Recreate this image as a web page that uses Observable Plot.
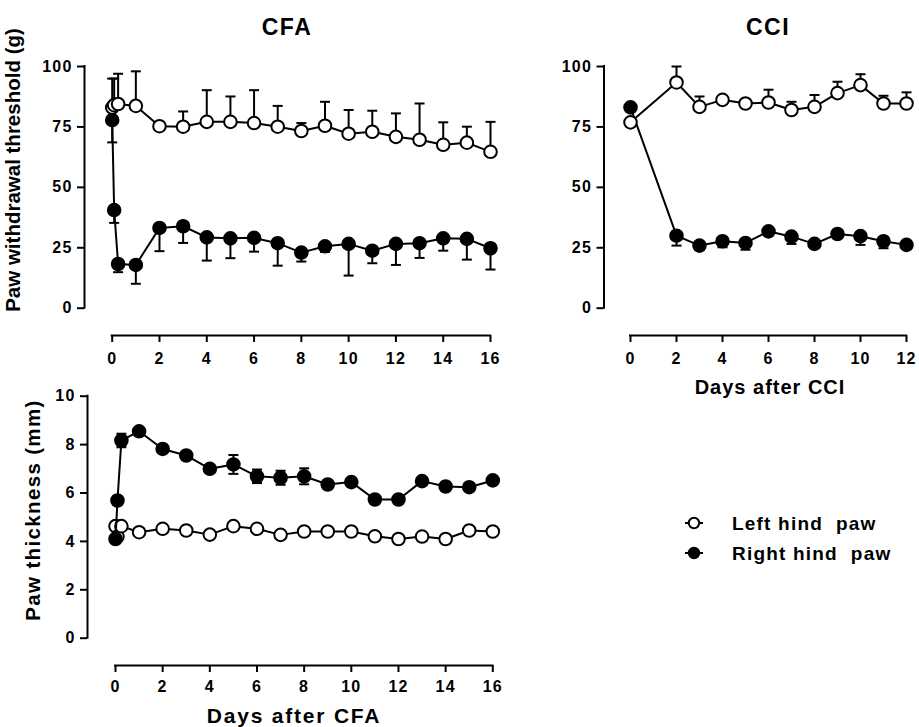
<!DOCTYPE html>
<html><head><meta charset="utf-8">
<script src="https://cdn.jsdelivr.net/npm/d3@7"></script>
<script src="https://cdn.jsdelivr.net/npm/@observablehq/plot@0.6"></script>
<style>
html,body{margin:0;padding:0;background:#fff;}
#fig{position:relative;width:919px;height:727px;overflow:hidden;font-family:'Liberation Sans',Arial,sans-serif;font-weight:bold;color:#000;}
.abs{position:absolute;white-space:pre;line-height:1;}
.panel{position:absolute;}
.panel svg{overflow:visible;}
</style></head><body><div id="fig"></div>
<script>
// ---------- data ----------
const cfaDays = [0, 0.083, 0.25, 1, 2, 3, 4, 5, 6, 7, 8, 9, 10, 11, 12, 13, 14, 15, 16];
const cfaTicks = [0, 2, 4, 6, 8, 10, 12, 14, 16];
const cciDays = [0, 2, 3, 4, 5, 6, 7, 8, 9, 10, 11, 12];
const cciTicks = [0, 2, 4, 6, 8, 10, 12];
const thresholdTicks = [0, 25, 50, 75, 100];
const thicknessTicks = [0, 2, 4, 6, 8, 10];

// CFA – paw withdrawal threshold (g)
const cfaThrLeft    = [83.0, 84.0, 84.5, 83.7, 75.3, 75.1, 77.1, 77.1, 76.6, 75.1, 73.3, 75.5, 72.2, 73.0, 70.9, 69.7, 67.6, 68.5, 64.7];
const cfaThrLeftErr = [12.0, 11.0, 12.5, 14.3, 1.0, 6.3, 13.1, 10.5, 13.6, 8.6, 3.3, 9.9, 9.8, 8.7, 9.7, 15.0, 9.3, 6.6, 12.4];
const cfaThrRight    = [77.8, 40.6, 18.3, 17.9, 33.2, 33.9, 29.3, 28.9, 29.1, 26.9, 23.0, 25.6, 26.6, 23.8, 26.6, 26.9, 28.9, 28.7, 24.8];
const cfaThrRightErr = [9.2, 5.3, 3.4, 7.8, 9.6, 6.9, 9.6, 8.2, 5.7, 9.3, 3.7, 2.3, 13.1, 5.2, 8.7, 6.1, 5.1, 8.6, 8.8];

// CCI – paw withdrawal threshold (g)
const cciThrLeft    = [76.9, 93.4, 83.3, 86.2, 84.7, 85.1, 82.0, 83.3, 89.0, 92.3, 84.7, 84.7];
const cciThrLeftErr = [1.0, 6.6, 4.3, 1.5, 1.5, 5.3, 3.4, 4.9, 4.7, 4.5, 3.2, 4.6];
const cciThrRight    = [83.1, 30.0, 25.9, 27.7, 27.0, 31.8, 29.6, 26.6, 30.7, 29.8, 27.7, 26.2];
const cciThrRightErr = [1.0, 4.1, 1.5, 2.5, 2.8, 1.5, 3.0, 1.5, 1.5, 3.6, 2.9, 1.5];

// CFA – paw thickness (mm)
const cfaThkLeft    = [4.63, 4.2, 4.63, 4.38, 4.52, 4.45, 4.28, 4.63, 4.52, 4.27, 4.41, 4.41, 4.41, 4.21, 4.1, 4.2, 4.1, 4.45, 4.41];
const cfaThkLeftErr = [0.1, 0.1, 0.1, 0.1, 0.1, 0.1, 0.1, 0.1, 0.1, 0.1, 0.1, 0.1, 0.1, 0.1, 0.1, 0.1, 0.1, 0.1, 0.1];
const cfaThkRight    = [4.1, 5.69, 8.17, 8.55, 7.82, 7.55, 7.0, 7.18, 6.69, 6.63, 6.69, 6.35, 6.45, 5.73, 5.73, 6.49, 6.27, 6.24, 6.52];
const cfaThkRightErr = [0.05, 0.1, 0.28, 0.1, 0.1, 0.1, 0.1, 0.39, 0.28, 0.29, 0.33, 0.1, 0.1, 0.1, 0.1, 0.1, 0.1, 0.1, 0.1];

// ---------- drawing ----------
const fig = document.getElementById("fig");
const capSymbol = { draw(ctx) { ctx.moveTo(-5, 0); ctx.lineTo(5, 0); } };

function seriesMarks(days, means, errs, filled, mode) {
  const data = days.map((d, i) => ({ x: d, y: means[i], e: errs[i] }));
  const lo = d => mode === "up" ? d.y : d.y - d.e;
  const hi = d => mode === "down" ? d.y : d.y + d.e;
  const m = [Plot.ruleX(data, { x: "x", y1: lo, y2: hi, stroke: "black", strokeWidth: 2 })];
  if (mode !== "down") m.push(Plot.dot(data, { x: "x", y: hi, symbol: capSymbol, r: 5, stroke: "black", strokeWidth: 2, fill: "none" }));
  if (mode !== "up") m.push(Plot.dot(data, { x: "x", y: lo, symbol: capSymbol, r: 5, stroke: "black", strokeWidth: 2, fill: "none" }));
  m.push(Plot.line(data, { x: "x", y: "y", stroke: "black", strokeWidth: 2 }));
  m.push(Plot.dot(data, { x: "x", y: "y", r: 6.3, fill: filled ? "black" : "white", stroke: "black", strokeWidth: 2 }));
  return m;
}

function panel(c) {
  const xDomain = [c.xTicks[0], c.xTicks[c.xTicks.length - 1]];
  const yDomain = [c.yTicks[0], c.yTicks[c.yTicks.length - 1]];
  const chart = Plot.plot({
    width: c.width, height: c.height,
    marginLeft: c.mL, marginTop: c.mT, marginRight: c.mR, marginBottom: c.mB,
    insetLeft: c.iL, insetBottom: c.iB, insetTop: 0, insetRight: 0,
    x: { type: "linear", domain: xDomain },
    y: { type: "linear", domain: yDomain },
    style: { fontFamily: "'Liberation Sans', Arial, sans-serif", fontSize: "16px", fontWeight: "bold", letterSpacing: "1.2px", background: "transparent", overflow: "visible", color: "black" },
    marks: [
      Plot.axisY(c.yTicks, { anchor: "left", tickSize: 7, tickPadding: 5, strokeWidth: 2, label: null, tickFormat: d => String(d), fill: "black", stroke: "black", strokeOpacity: 1 }),
      Plot.axisX(c.xTicks, { anchor: "bottom", tickSize: 7, tickPadding: c.tickPad, strokeWidth: 2, label: null, tickFormat: d => String(d), fill: "black", stroke: "black", strokeOpacity: 1 }),
      Plot.ruleX([xDomain[0]], { y1: yDomain[0], y2: yDomain[1], dx: -c.iL, stroke: "black", strokeWidth: 2, strokeLinecap: "square" }),
      Plot.ruleY([yDomain[0]], { x1: xDomain[0], x2: xDomain[1], dy: c.iB, stroke: "black", strokeWidth: 2, strokeLinecap: "square" }),
      ...c.series
    ]
  });
  const div = document.createElement("div");
  div.className = "panel";
  div.style.left = c.left + "px";
  div.style.top = c.top + "px";
  div.appendChild(chart);
  fig.appendChild(div);
}

panel({
  left: 0, top: 0, width: 510, height: 375,
  mL: 84, mT: 66, mR: 20, mB: 40, iL: 27.7, iB: 27.3, tickPad: 10,
  xTicks: cfaTicks, yTicks: thresholdTicks,
  series: [
    ...seriesMarks(cfaDays, cfaThrLeft, cfaThrLeftErr, false, "up"),
    ...seriesMarks(cfaDays, cfaThrRight, cfaThrRightErr, true, "down")
  ]
});

panel({
  left: 520, top: 0, width: 399, height: 375,
  mL: 83.5, mT: 66, mR: 13, mB: 40, iL: 26.5, iB: 27.3, tickPad: 10,
  xTicks: cciTicks, yTicks: thresholdTicks,
  series: [
    ...seriesMarks(cciDays, cciThrRight, cciThrRightErr, true, "down"),
    ...seriesMarks(cciDays, cciThrLeft, cciThrLeftErr, false, "up")
  ]
});

panel({
  left: 0, top: 380, width: 510, height: 320,
  mL: 87, mT: 15.7, mR: 17.7, mB: 35, iL: 28, iB: 27.3, tickPad: 8,
  xTicks: cfaTicks, yTicks: thicknessTicks,
  series: [
    ...seriesMarks(cfaDays, cfaThkLeft, cfaThkLeftErr, false, "both"),
    ...seriesMarks(cfaDays, cfaThkRight, cfaThkRightErr, true, "both")
  ]
});

// ---------- text ----------
function addText(txt, opts) {
  const d = document.createElement("div");
  d.className = "abs";
  d.textContent = txt;
  d.style.left = opts.x + "px";
  d.style.top = opts.y + "px";
  d.style.fontSize = opts.size + "px";
  d.style.letterSpacing = (opts.ls || 0) + "px";
  d.style.transform = opts.rotate ? "translate(-50%,-50%) rotate(-90deg)" : (opts.center ? "translateX(-50%)" : "none");
  fig.appendChild(d);
}
addText("CFA", { x: 287, y: 15.5, size: 23, ls: 1.5, center: true });
addText("CCI", { x: 768, y: 15.5, size: 23, ls: 1.5, center: true });
addText("Days after CCI", { x: 770, y: 377.4, size: 20, ls: 1, center: true });
addText("Days after CFA", { x: 294, y: 705, size: 21, ls: 1.8, center: true });
addText("Paw withdrawal threshold (g)", { x: 13, y: 170, size: 20.5, ls: 0, rotate: true });
addText("Paw thickness (mm)", { x: 33.3, y: 510, size: 20.5, ls: 1.35, rotate: true });

// legend
const legendItems = [
  { label: "Left hind  paw", filled: false, y: 523 },
  { label: "Right hind  paw", filled: true, y: 553 }
];
legendItems.forEach(it => {
  const svg = d3.create("svg").attr("width", 24).attr("height", 16)
    .style("position", "absolute").style("left", "682px").style("top", (it.y - 8) + "px");
  svg.append("line").attr("x1", 3).attr("x2", 21).attr("y1", 8).attr("y2", 8).attr("stroke", "black").attr("stroke-width", 2);
  svg.append("circle").attr("cx", 12).attr("cy", 8).attr("r", 5.2).attr("fill", it.filled ? "black" : "white").attr("stroke", "black").attr("stroke-width", 2);
  fig.appendChild(svg.node());
  addText(it.label, { x: 732, y: it.y - 9.3, size: 19, ls: 1.2 });
});
</script>
</body></html>
